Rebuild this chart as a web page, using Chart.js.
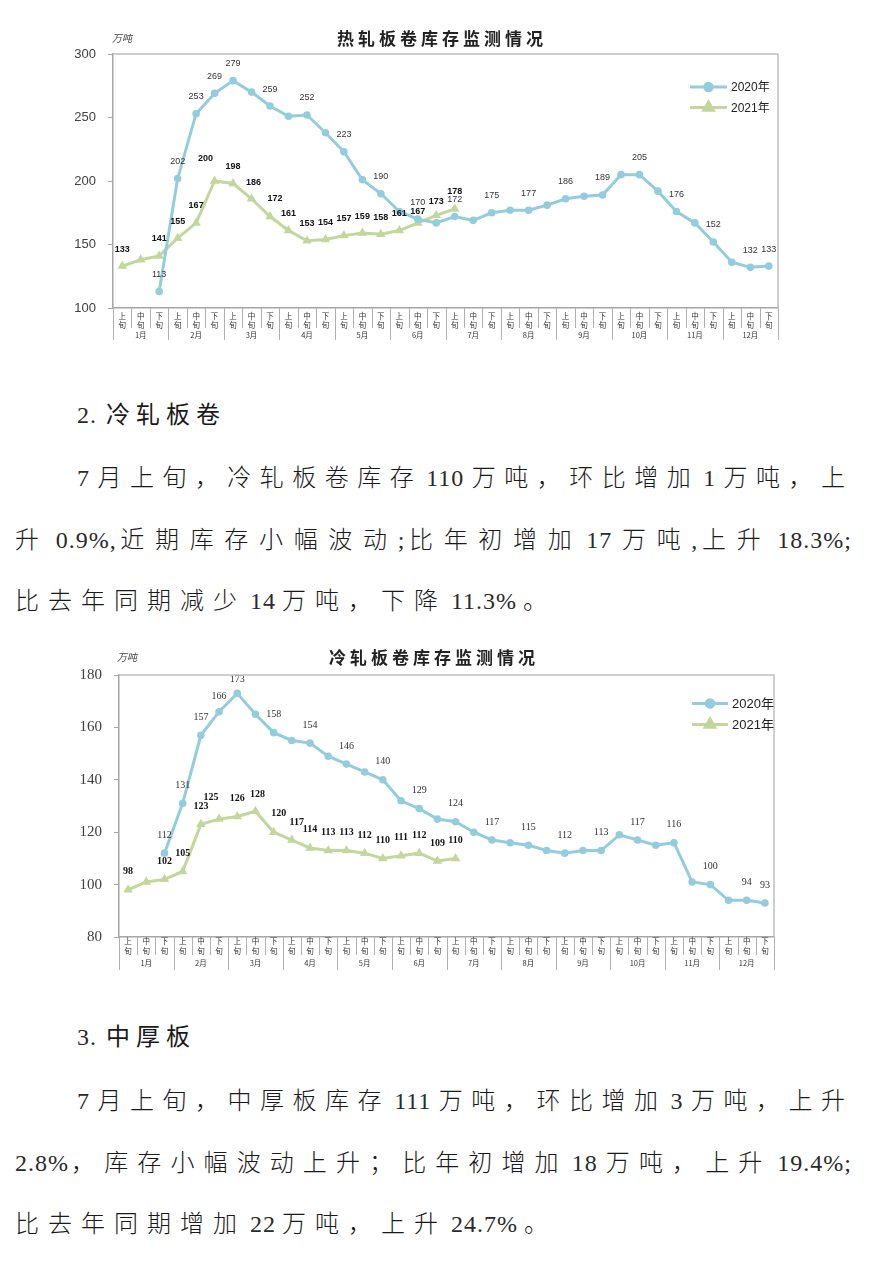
<!DOCTYPE html>
<html><head><meta charset="utf-8">
<script src="https://cdn.jsdelivr.net/npm/chart.js@4.4.1/dist/chart.umd.min.js"></script>
<style>
html,body{margin:0;padding:0;background:#fff;width:870px;height:1262px;overflow:hidden;}
body{position:relative;}
canvas{position:absolute;left:0;}
.t{position:absolute;font-family:"Liberation Serif","Noto Sans CJK SC",serif;font-size:24px;line-height:30px;color:#1a1a1a;letter-spacing:7px;font-weight:300;}
.t .l{letter-spacing:1px;margin:0 6px 0 4px;font-weight:400;color:#2a2a2a;}
.t .s{letter-spacing:1px;margin:0 6px 0 0;font-weight:400;color:#2a2a2a;}
.t .e{letter-spacing:1px;margin:0 0 0 6px;font-weight:400;color:#2a2a2a;}
.t .p{letter-spacing:1px;font-weight:400;color:#2a2a2a;}
.j{text-align:justify;text-align-last:justify;white-space:normal;}
.n{white-space:nowrap;}
.h{letter-spacing:6px;font-weight:400;}
.h .p{margin-right:9px;}
</style></head>
<body>
<canvas id="c1" width="870" height="345" style="top:0;width:870px;height:345px"></canvas>

<div class="t n h" style="left:77px;top:400px;"><span class="p">2.</span>冷轧板卷</div>
<div class="t j" style="left:77px;top:463px;width:775px;"><span class="s">7</span>月上旬，冷轧板卷库存<span class="l">110</span>万吨，环比增加<span class="l">1</span>万吨，上</div>
<div class="t j" style="left:15px;top:525px;width:837px;">升<span class="e">0.9%,</span>近期库存小幅波动<span class="p">;</span>比年初增加<span class="l">17</span>万吨<span class="p">,</span>上升<span class="e">18.3%;</span></div>
<div class="t n" style="left:15px;top:586px;letter-spacing:9px;">比去年同期减少<span class="l">14</span>万吨，下降<span class="l">11.3%</span>。</div>

<canvas id="c2" width="870" height="335" style="top:640px;width:870px;height:335px"></canvas>

<div class="t n h" style="left:77px;top:1022px;"><span class="p">3.</span>中厚板</div>
<div class="t j" style="left:77px;top:1086px;width:775px;"><span class="s">7</span>月上旬，中厚板库存<span class="l">111</span>万吨，环比增加<span class="l">3</span>万吨，上升</div>
<div class="t j" style="left:15px;top:1148px;width:837px;"><span class="p">2.8%</span>，库存小幅波动上升；比年初增加<span class="l">18</span>万吨，上升<span class="e">19.4%;</span></div>
<div class="t n" style="left:15px;top:1209px;letter-spacing:9px;">比去年同期增加<span class="l">22</span>万吨，上升<span class="l">24.7%</span>。</div>

<script>
// ---------------- DATA ----------------
const periodLabels = ['上旬', '中旬', '下旬'];
const monthLabels = ['1月','2月','3月','4月','5月','6月','7月','8月','9月','10月','11月','12月'];
const categories = monthLabels.flatMap(m => periodLabels.map(p => m + p));
const seriesNames = ['2020年', '2021年'];

const hotRolled2020 = [null,null,113,202,253,269,279,270,259,251,252,238,223,201,190,176,170,167,172,169,175,177,177,181,186,188,189,205,205,192,176,167,152,136,132,133];
const hotRolled2021 = [133,138,141,155,167,200,198,186,172,161,153,154,157,159,158,161,167,173,178];

const coldRolled2020 = [null,null,112,131,157,166,173,165,158,155,154,149,146,143,140,132,129,125,124,120,117,116,115,113,112,113,113,119,117,115,116,101,100,94,94,93];
const coldRolled2021 = [98,101,102,105,123,125,126,128,120,117,114,113,113,112,110,111,112,109,110];

const labeled2020 = [2,3,4,5,6,8,10,12,14,16,18,20,22,24,26,28,30,32,34,35];
const labeled2021 = [0,2,3,4,5,6,7,8,9,10,11,12,13,14,15,16,17,18];

const hotTitle = '热轧板卷库存监测情况';
const coldTitle = '冷轧板卷库存监测情况';
const unitLabel = '万吨';

// ---------------- STYLE ----------------
const BLUE = '#93CDDD';
const GREEN = '#C3D69B';

const decoPlugin = {
  id: 'deco',
  afterDraw(chart, args, o) {
    const ctx = chart.ctx, a = chart.chartArea;
    ctx.save();
    // plot border top/right
    ctx.strokeStyle = '#bfbfbf'; ctx.lineWidth = 1.5;
    ctx.beginPath(); ctx.moveTo(a.left, a.top); ctx.lineTo(a.right, a.top); ctx.lineTo(a.right, a.bottom); ctx.stroke();
    // category separators
    const n = chart.data.labels.length, w = (a.right - a.left) / n;
    ctx.strokeStyle = '#b0b0b0'; ctx.lineWidth = 1;
    for (let i = 0; i <= n; i++) {
      const x = Math.round(a.left + i * w) + 0.5;
      const len = (i % 3 === 0) ? o.monthSepLen : o.sepLen;
      ctx.beginPath(); ctx.moveTo(x, a.bottom); ctx.lineTo(x, a.bottom + len); ctx.stroke();
    }
    // period labels (vertical two-character)
    ctx.font = o.tickFont; ctx.fillStyle = '#333'; ctx.textAlign = 'center'; ctx.textBaseline = 'middle';
    chart.data.labels.forEach((lab, i) => {
      const chars = periodLabels[i % 3].split('');
      const x = a.left + (i + 0.5) * w;
      ctx.fillText(chars[0], x, a.bottom + o.p1Dy);
      ctx.fillText(chars[1], x, a.bottom + o.p2Dy);
    });
    // month labels
    ctx.font = o.monthFont;
    monthLabels.forEach((m, k) => ctx.fillText(m, a.left + (k * 3 + 1.5) * w, a.bottom + o.monthDy));
    // title
    ctx.font = o.titleFont; ctx.fillStyle = '#222'; ctx.letterSpacing = o.titleSpacing;
    ctx.fillText(o.title, o.titleX, o.titleY);
    ctx.letterSpacing = '0px';
    // unit
    ctx.font = 'italic 10px "Noto Sans CJK SC"'; ctx.fillStyle = '#444';
    ctx.fillText(unitLabel, o.unitX, o.unitY);
    // legend
    chart.data.datasets.forEach((ds, i) => {
      const y = o.legendY[i];
      ctx.strokeStyle = ds.borderColor; ctx.lineWidth = 3;
      ctx.beginPath(); ctx.moveTo(o.legendX1, y); ctx.lineTo(o.legendX2, y); ctx.stroke();
      ctx.fillStyle = ds.borderColor;
      Chart.helpers.drawPoint(ctx, {pointStyle: ds.pointStyle, radius: ds.pointRadius, rotation: 0, borderWidth: 1}, (o.legendX1 + o.legendX2) / 2, y);
      ctx.fillStyle = '#222'; ctx.font = o.legendFont; ctx.textAlign = 'left';
      ctx.fillText(ds.label, o.legendTextX, y + 1);
      ctx.textAlign = 'center';
    });
    ctx.restore();
  },
  afterDatasetsDraw(chart, args, o) {
    const ctx = chart.ctx;
    ctx.save();
    ctx.textAlign = 'center'; ctx.textBaseline = 'middle';
    chart.data.datasets.forEach((ds, di) => {
      const meta = chart.getDatasetMeta(di);
      const list = di === 0 ? labeled2020 : labeled2021;
      ctx.font = o.labelFonts[di]; ctx.fillStyle = o.labelColors[di];
      list.forEach(i => {
        const p = meta.data[i]; if (!p || ds.data[i] == null) return;
        const off = o.labelOffsets[di + ':' + i] || [0, 0];
        ctx.fillText(String(ds.data[i]), p.x + off[0], p.y - o.labelDy + off[1]);
      });
    });
    ctx.restore();
  }
};

function makeChart(id, d2020, d2021, g) {
  const H = document.getElementById(id).height;
  return new Chart(document.getElementById(id), {
    type: 'line',
    data: {
      labels: categories,
      datasets: [
        {label: seriesNames[0], data: d2020, borderColor: BLUE, backgroundColor: BLUE, borderWidth: 3,
         pointStyle: 'circle', pointRadius: 3.8, pointBorderWidth: 0, pointBackgroundColor: BLUE, tension: 0},
        {label: seriesNames[1], data: d2021, borderColor: GREEN, backgroundColor: GREEN, borderWidth: 3,
         pointStyle: 'triangle', pointRadius: 5.5, pointBorderWidth: 0, pointBackgroundColor: GREEN, tension: 0}
      ]
    },
    options: {
      responsive: false, animation: false, devicePixelRatio: 1,
      layout: {padding: {top: g.top, right: 870 - g.right, left: 0, bottom: 0}},
      plugins: {
        legend: {display: false}, title: {display: false}, tooltip: {enabled: false},
        deco: g.deco
      },
      scales: {
        x: {
          offset: true,
          grid: {display: false},
          border: {display: true, color: '#a6a6a6', width: 1.5},
          ticks: {display: false},
          afterFit: s => { s.height = H - g.bottom; }
        },
        y: {
          min: g.min, max: g.max,
          ticks: {stepSize: g.step, padding: g.yPad, color: '#404040', font: g.yFont},
          grid: {drawOnChartArea: false, drawTicks: true, tickLength: 5, color: '#a6a6a6'},
          border: {display: true, color: '#a6a6a6', width: 1.5},
          afterFit: s => { s.width = g.left; }
        }
      }
    },
    plugins: [decoPlugin]
  });
}

makeChart('c1', hotRolled2020, hotRolled2021, {
  top: 54, bottom: 308, left: 113, right: 778, min: 100, max: 300, step: 50,
  yPad: 12, yFont: {family: 'Liberation Sans', size: 13},
  deco: {
    title: hotTitle, titleX: 442, titleY: 39, titleFont: 'bold 17px "Noto Sans CJK SC"', titleSpacing: '4px',
    unitX: 122, unitY: 38,
    tickFont: '7.5px "Noto Sans CJK SC"', p1Dy: 8, p2Dy: 16.7,
    sepLen: 20, monthSepLen: 32, monthDy: 26.7, monthFont: '7.5px "Noto Sans CJK SC"',
    legendX1: 690, legendX2: 727, legendTextX: 731, legendY: [87, 107.5], legendFont: '12px "Liberation Sans", "Noto Sans CJK SC"',
    labelDy: 17, labelFonts: ['9px "Liberation Sans"', 'bold 9px "Liberation Sans"'], labelColors: ['#333', '#111'],
    labelOffsets: {'1:5': [-9, -5], '1:7': [2, 1], '1:8': [5, -1], '1:16': [0, 6], '1:17': [0, 3]}
  }
});

makeChart('c2', coldRolled2020, coldRolled2021, {
  top: 35, bottom: 297, left: 119, right: 774, min: 80, max: 180, step: 20,
  yPad: 12, yFont: {family: 'Liberation Serif', size: 15},
  deco: {
    title: coldTitle, titleX: 434, titleY: 18, titleFont: 'bold 17px "Noto Sans CJK SC"', titleSpacing: '4px',
    unitX: 127, unitY: 17,
    tickFont: '7.5px "Noto Sans CJK SC"', p1Dy: 4.5, p2Dy: 14.5,
    sepLen: 18, monthSepLen: 33, monthDy: 26, monthFont: '7.5px "Noto Sans CJK SC"',
    legendX1: 692, legendX2: 728, legendTextX: 732, legendY: [63.5, 84.5], legendFont: '13px "Liberation Sans", "Noto Sans CJK SC"',
    labelDy: 18, labelFonts: ['10px "Liberation Serif"', 'bold 10px "Liberation Serif"'], labelColors: ['#333', '#111'],
    labelOffsets: {'0:5': [0, 3], '0:6': [0, 4], '1:5': [-8, -4], '1:7': [2, 1], '1:8': [5, -1], '1:9': [5, 0]}
  }
});
</script>
</body></html>
